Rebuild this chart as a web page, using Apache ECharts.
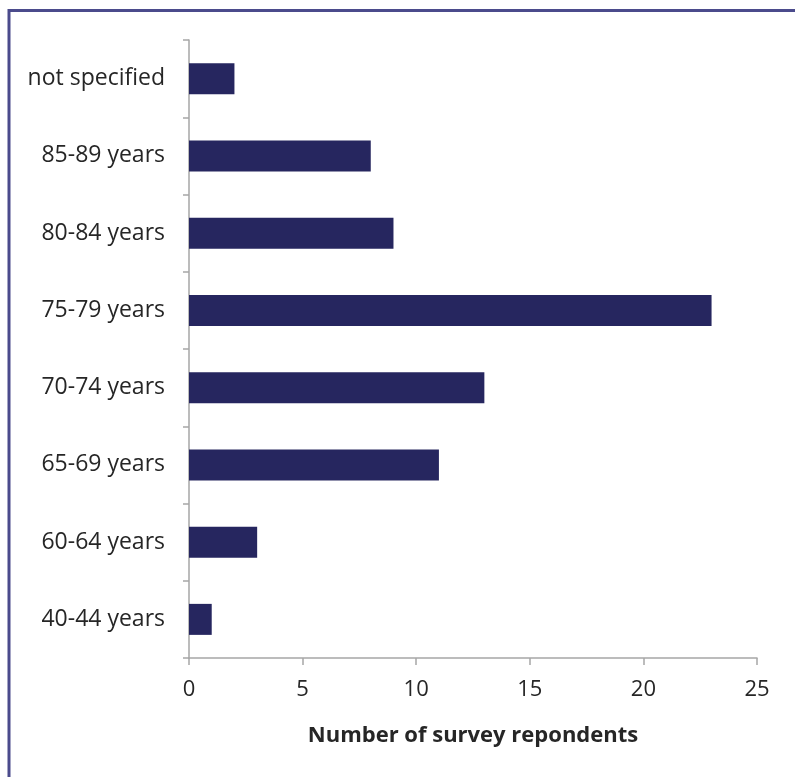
<!DOCTYPE html>
<html>
<head>
<meta charset="utf-8">
<style>
  html, body { margin: 0; padding: 0; background: #ffffff; }
  #chart { width: 795px; height: 777px; }
</style>
<script src="https://cdn.jsdelivr.net/npm/echarts@6/dist/echarts.min.js"></script>
</head>
<body>
<div id="chart"></div>
<script>
// Age groups, listed bottom to top as they appear on the vertical axis
const ageGroups = ['40-44 years', '60-64 years', '65-69 years', '70-74 years',
                   '75-79 years', '80-84 years', '85-89 years', 'not specified'];
// Respondents per age group
const respondents = [1, 3, 11, 13, 23, 9, 8, 2];

const axisTitle = 'Number of survey repondents';
const fontFamily = '"Open Sans", "Noto Sans", "DejaVu Sans", sans-serif';
const axisGrey = '#a6a6a6';
const textColor = '#262626';

const chart = echarts.init(document.getElementById('chart'), null, { renderer: 'canvas' });

chart.setOption({
  animation: false,
  backgroundColor: '#ffffff',
  textStyle: { fontFamily: fontFamily },
  graphic: [
    // frame along the top and left edges
    { type: 'line', shape: { x1: 9, y1: 10.5, x2: 795, y2: 10.5 },
      style: { stroke: '#4b4b8c', lineWidth: 3 } },
    { type: 'line', shape: { x1: 9, y1: 9, x2: 9, y2: 777 },
      style: { stroke: '#4b4b8c', lineWidth: 3 } }
  ],
  grid: { left: 189, right: 38, top: 40, bottom: 119, containLabel: false },
  xAxis: {
    type: 'value',
    min: 0,
    max: 25,
    interval: 5,
    name: axisTitle,
    nameLocation: 'middle',
    nameGap: 67,
    nameTextStyle: { fontSize: 22, fontWeight: 'bold', color: textColor, fontFamily: fontFamily },
    axisLine: { show: true, lineStyle: { color: axisGrey, width: 1.5 } },
    axisTick: { show: true, length: 7, lineStyle: { color: axisGrey, width: 1.5 } },
    axisLabel: { fontSize: 22, color: textColor, margin: 21, fontFamily: fontFamily },
    splitLine: { show: false }
  },
  yAxis: {
    type: 'category',
    data: ageGroups,
    axisLine: { show: true, lineStyle: { color: axisGrey, width: 1.5 } },
    axisTick: { show: true, length: 6, lineStyle: { color: axisGrey, width: 1.5 } },
    axisLabel: { fontSize: 23, color: textColor, margin: 24, fontFamily: fontFamily },
    splitLine: { show: false }
  },
  series: [{
    type: 'bar',
    data: respondents,
    barWidth: 31,
    itemStyle: { color: '#26265f' }
  }]
});
</script>
</body>
</html>
